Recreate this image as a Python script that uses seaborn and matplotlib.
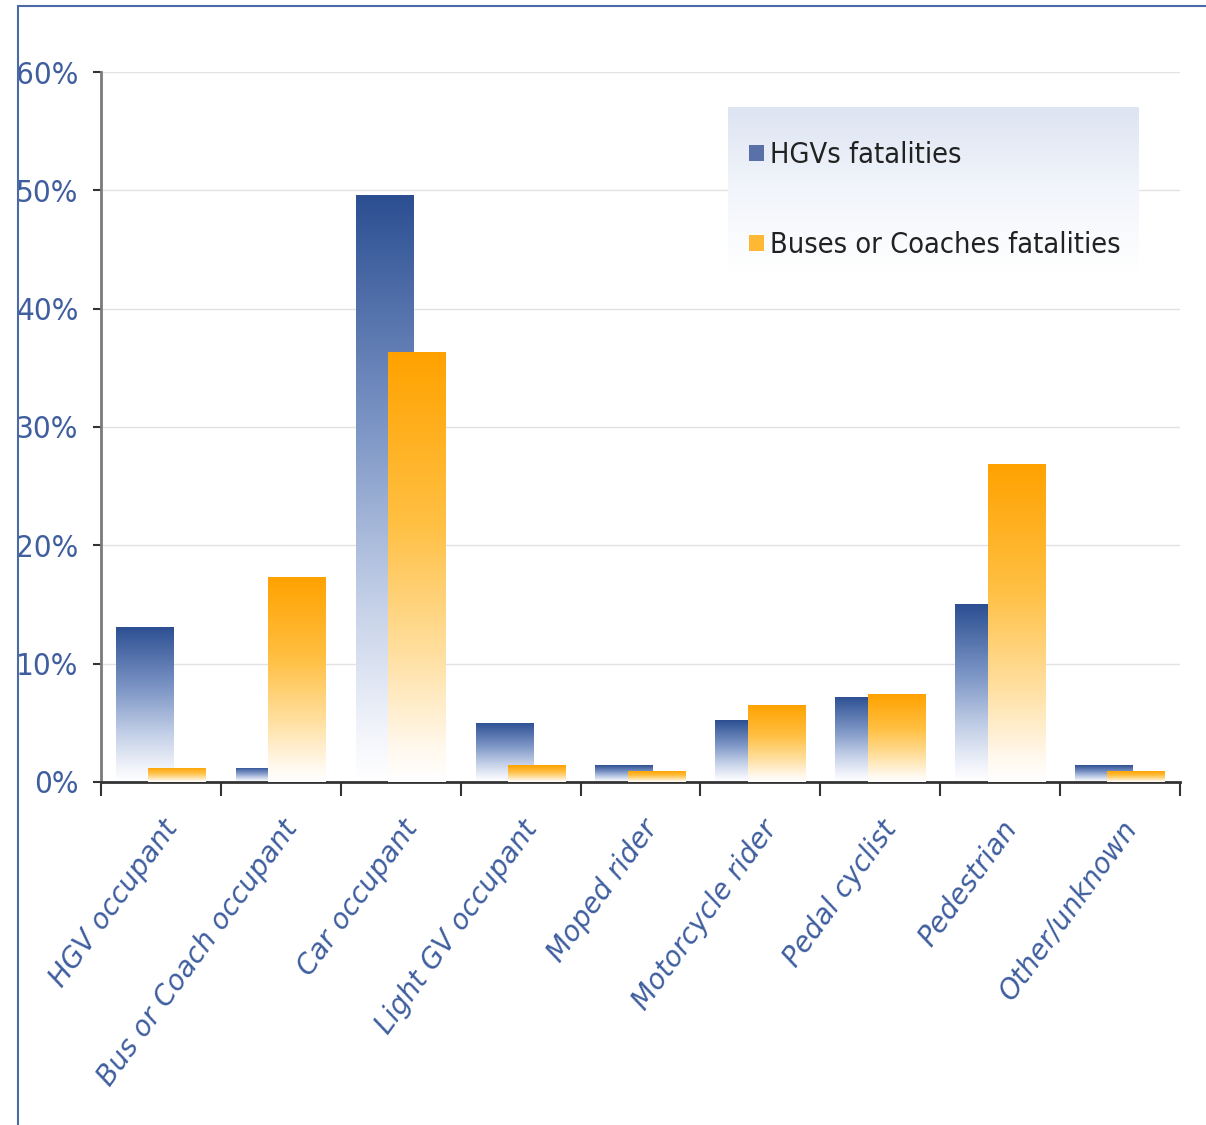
import numpy as np
import pandas as pd
import matplotlib
matplotlib.use("Agg")
import matplotlib.pyplot as plt
import matplotlib.font_manager as fm
import seaborn as sns
from matplotlib.colors import LinearSegmentedColormap
from matplotlib.patches import Patch
from matplotlib.lines import Line2D

# ======================================
# DATA
# ======================================
categories = ["HGV occupant", "Bus or Coach occupant", "Car occupant",
              "Light GV occupant", "Moped rider", "Motorcycle rider",
              "Pedal cyclist", "Pedestrian", "Other/unknown"]
hgv = [13.1, 1.2, 49.6, 5.0, 1.4, 5.2, 7.2, 15.0, 1.4]
bus = [1.2, 17.3, 36.3, 1.4, 0.9, 6.5, 7.4, 26.9, 0.9]
series = ["HGVs fatalities", "Buses or Coaches fatalities"]
yticks = [0, 10, 20, 30, 40, 50, 60]

BLUE = "#2C4F92"
ORANGE = "#FFA200"
LABEL_BLUE = "#3F5E9E"

# narrow font if one is installed
names = {f.name for f in fm.fontManager.ttflist}
cond = [f for f in fm.fontManager.ttflist
        if f.name == "DejaVu Sans" and "ondensed" in str(f.stretch) + f.fname]
if "Liberation Sans Narrow" in names:
    narrow = {"family": "Liberation Sans Narrow"}
    scale = 1.0
elif cond:
    narrow = {"family": "DejaVu Sans", "stretch": "condensed"}
    scale = 0.9
else:
    narrow = {"family": "DejaVu Sans"}
    scale = 0.78

df = pd.DataFrame({
    "category": categories * 2,
    "value": hgv + bus,
    "series": [series[0]] * len(categories) + [series[1]] * len(categories),
})

# ======================================
# PLOT
# ======================================
sns.set_style("white")
fig = plt.figure(figsize=(12.06, 11.25), dpi=100)
ax = fig.add_axes([0.0837, 0.3049, 0.8947, 0.6311])

sns.barplot(data=df, x="category", y="value", hue="series", order=categories,
            hue_order=series, palette=[BLUE, ORANGE], width=0.75,
            dodge=True, legend=False, ax=ax, errorbar=None)

cmaps = [LinearSegmentedColormap.from_list(
             "b", [(0, "white"), (0.08, "#f3f5fb"), (0.3, "#c5d1e8"),
                   (0.6, "#7d96c6"), (1, BLUE)]),
         LinearSegmentedColormap.from_list(
             "o", [(0, "white"), (0.08, "#fff8ec"), (0.3, "#ffdf9f"),
                   (0.6, "#ffc043"), (1, ORANGE)])]
grad = np.linspace(0, 1, 256).reshape(-1, 1)

n = len(categories)
for i, p in enumerate(ax.patches):
    s = i // n
    c = p.get_x() + p.get_width() / 2
    cat = round(c)
    new_c = cat + (c - cat) * 0.72
    w = 0.48
    p.set_x(new_c - w / 2)
    p.set_width(w)
    p.set_facecolor("none")
    p.set_edgecolor("none")
    h = p.get_height()
    im = ax.imshow(grad, cmap=cmaps[s], origin="lower", aspect="auto",
                   extent=[new_c - w / 2, new_c + w / 2, 0, h],
                   zorder=2 + s, interpolation="bicubic")
    im.set_clip_path(p)

ax.set_xlim(-0.5, n - 0.5)
ax.set_ylim(0, 60)
ax.set_xlabel("")
ax.set_ylabel("")

# grid & spines
for y in yticks[1:]:
    ax.axhline(y, color="#e2e2e2", lw=1, zorder=0)
sns.despine(ax=ax)
ax.spines["left"].set_color("#7a7a7a")
ax.spines["left"].set_linewidth(2)
ax.spines["bottom"].set_color("#333333")
ax.spines["bottom"].set_linewidth(2)

ax.set_yticks(yticks)
ax.set_yticklabels([f"{v}%" for v in yticks], color=LABEL_BLUE,
                   fontsize=25 * scale, **narrow)
ax.tick_params(axis="y", length=6, width=1.5, color="#333333", pad=10, left=True)

ax.set_xticks(range(n))
ax.set_xticklabels(categories, rotation=54, ha="right", rotation_mode="anchor",
                   color=LABEL_BLUE, fontsize=20, style="italic")
ax.tick_params(axis="x", length=0, pad=24)
ax.set_xticks(np.arange(-0.5, n), minor=True)
ax.tick_params(axis="x", which="minor", length=10, width=1.5, color="#333333",
               bottom=True)

# legend box with gradient background
lx0, lx1, ly0, ly1 = 0.581, 0.961, 0.718, 0.949
lg = np.linspace(0, 1, 256).reshape(-1, 1)
lcm = LinearSegmentedColormap.from_list("l", ["#ffffff", "#f2f5fb", "#dde4f2"])
ax.imshow(lg, cmap=lcm, origin="lower", aspect="auto", transform=ax.transAxes,
          extent=[lx0, lx1, ly0, ly1], zorder=5)
ax.set_xlim(-0.5, n - 0.5)
ax.set_ylim(0, 60)

handles = [Patch(facecolor="#5a70a8", edgecolor="none"),
           Patch(facecolor="#ffb833", edgecolor="none")]
leg_size = 23 * scale
leg = ax.legend(handles, series, loc="upper left", bbox_to_anchor=(lx0 - 0.004, ly1 - 0.01),
                frameon=False, handlelength=0.5, handleheight=0.5, handletextpad=0.2,
                labelspacing=2.15,
                prop=fm.FontProperties(size=leg_size, **narrow))
leg.set_zorder(6)
for t in leg.get_texts():
    t.set_color("#222222")

# frame lines around figure
fig.add_artist(Line2D([0.015, 0.015], [0, 0.995], color="#4a6aa8", lw=1.5,
                      transform=fig.transFigure))
fig.add_artist(Line2D([0.015, 1.0], [0.995, 0.995], color="#4a6aa8", lw=1.5,
                      transform=fig.transFigure))

fig.savefig("out.png", dpi=100)
